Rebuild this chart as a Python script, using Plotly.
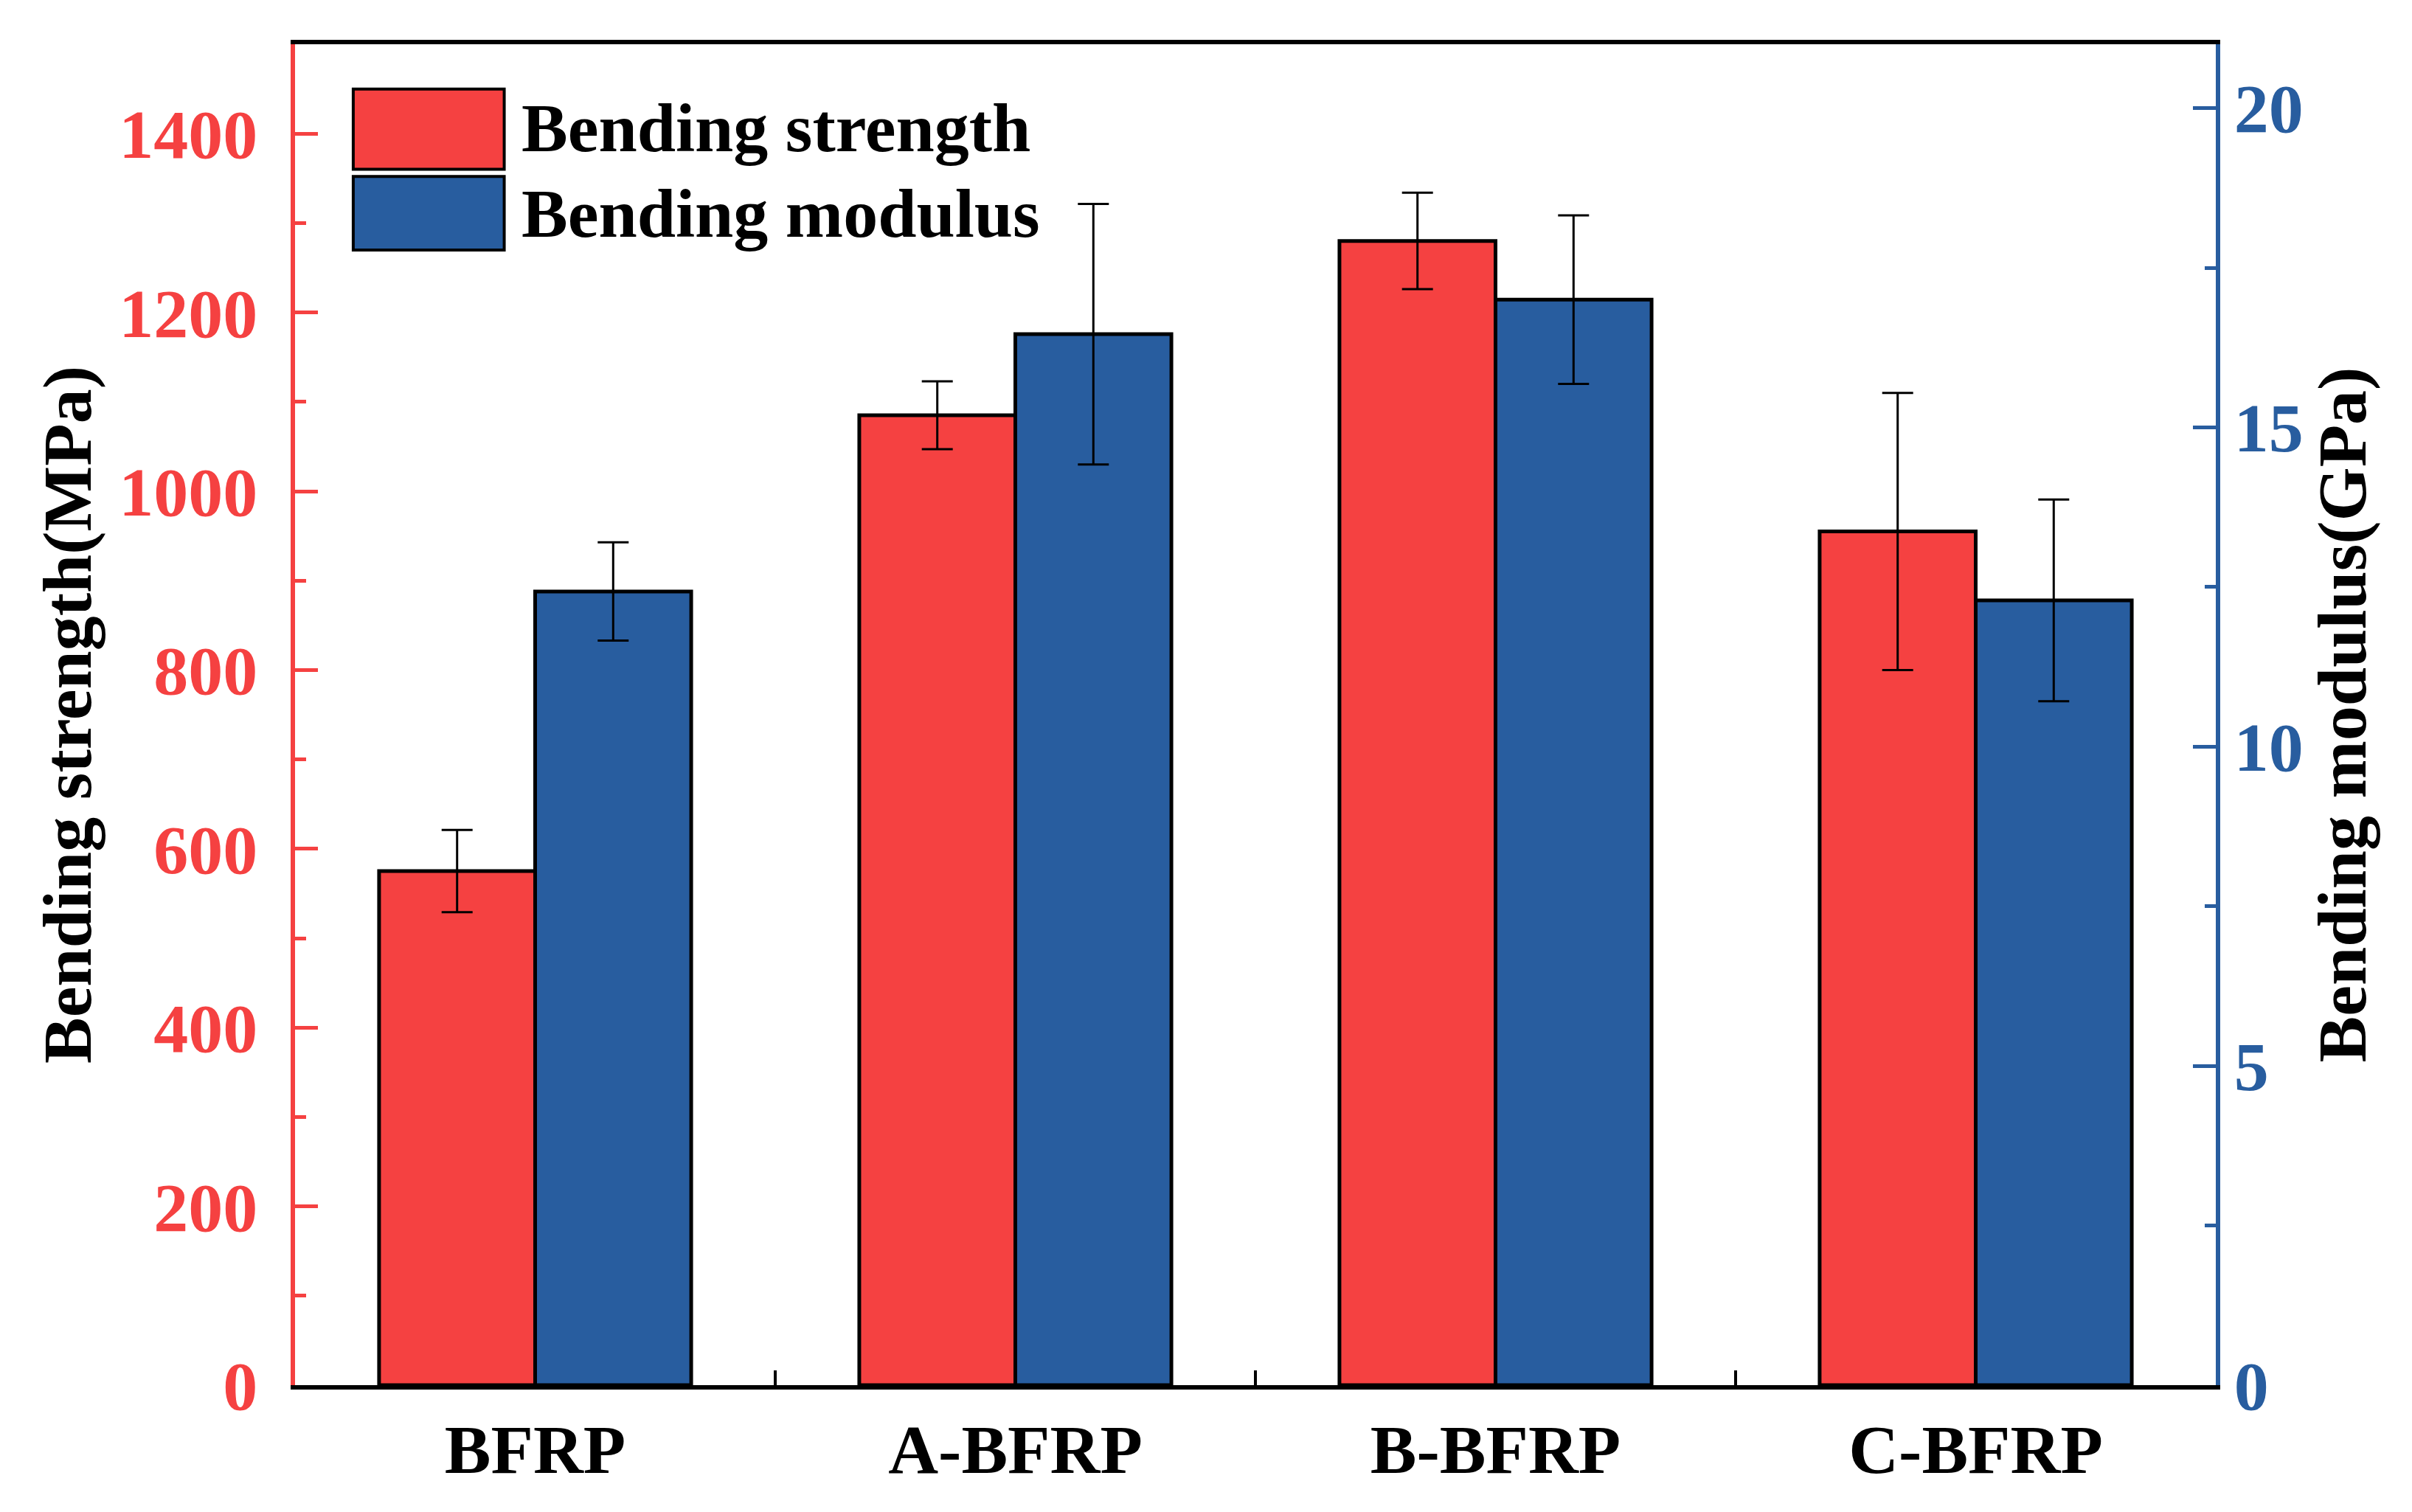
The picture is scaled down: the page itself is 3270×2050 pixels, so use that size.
import plotly.graph_objects as go

categories = ["BFRP", "A-BFRP", "B-BFRP", "C-BFRP"]
strength = [575, 1085, 1280, 955]
strength_err = [46, 38, 54, 155]
modulus = [12.43, 16.46, 17.0, 12.29]
modulus_err = [0.77, 2.04, 1.32, 1.58]

RED = "#F54141"
BLUE = "#285D9F"
FONT = "Liberation Serif"
FS = 94

fig = go.Figure()
fig.add_trace(go.Bar(
    x=categories, y=strength, name="Bending strength",
    marker=dict(color=RED, line=dict(color="black", width=5)),
    width=0.325, offset=-0.325,
    error_y=dict(type="data", array=strength_err, color="black", thickness=3, width=21),
    yaxis="y", showlegend=False,
))
fig.add_trace(go.Bar(
    x=categories, y=modulus, name="Bending modulus",
    marker=dict(color=BLUE, line=dict(color="black", width=5)),
    width=0.325, offset=0,
    error_y=dict(type="data", array=modulus_err, color="black", thickness=3, width=21),
    yaxis="y2", showlegend=False,
))

# legend drawn as boxes + text
legend_items = [("Bending strength", RED, 0.9666, 0.9068, 0.938),
                ("Bending modulus", BLUE, 0.9014, 0.8466, 0.874)]
for label, col, y1, y0, yt in legend_items:
    fig.add_shape(type="rect", xref="paper", yref="paper", x0=0.0303, x1=0.1089,
                  y0=y0, y1=y1, fillcolor=col, line=dict(color="black", width=4))
    fig.add_annotation(xref="paper", yref="paper", x=0.117, y=yt, text=label,
                       showarrow=False, xanchor="left", yanchor="middle",
                       font=dict(family=FONT, size=FS, color="black", weight="bold"))

fig.update_layout(
    width=3270, height=2050,
    margin=dict(l=392, r=274, t=52, b=180),
    paper_bgcolor="white", plot_bgcolor="white",
    font=dict(family=FONT, size=FS, color="black", weight="bold"),
    xaxis=dict(
        type="category", range=[-0.5, 3.5],
        showline=True, linecolor="black", linewidth=6, mirror=True,
        ticks="inside", tickson="boundaries", ticklen=20, tickwidth=4, tickcolor="black",
        tickfont=dict(family=FONT, size=FS, color="black", weight="bold"),
        showgrid=False, zeroline=False,
    ),
    yaxis=dict(
        range=[0, 1500], dtick=200, tick0=0,
        showline=True, linecolor=RED, linewidth=6,
        ticks="inside", ticklen=31, tickwidth=5, tickcolor=RED,
        minor=dict(dtick=100, ticks="inside", ticklen=15, tickwidth=5, tickcolor=RED),
        tickfont=dict(family=FONT, size=FS, color=RED, weight="bold"),
        ticklabelstandoff=26,
        title=dict(text="Bending strength(MPa)", standoff=8,
                   font=dict(family=FONT, size=FS, color="black", weight="bold")),
        showgrid=False, zeroline=False,
    ),
    yaxis2=dict(
        overlaying="y", side="right",
        range=[0, 21], dtick=5, tick0=0,
        showline=True, linecolor=BLUE, linewidth=6,
        ticks="inside", ticklen=31, tickwidth=5, tickcolor=BLUE,
        minor=dict(dtick=2.5, ticks="inside", ticklen=15, tickwidth=5, tickcolor=BLUE),
        tickfont=dict(family=FONT, size=FS, color=BLUE, weight="bold"),
        title=dict(text="Bending modulus(GPa)", standoff=4,
                   font=dict(family=FONT, size=FS, color="black", weight="bold")),
        showgrid=False, zeroline=False,
    ),
)

fig.write_html("out.html")
